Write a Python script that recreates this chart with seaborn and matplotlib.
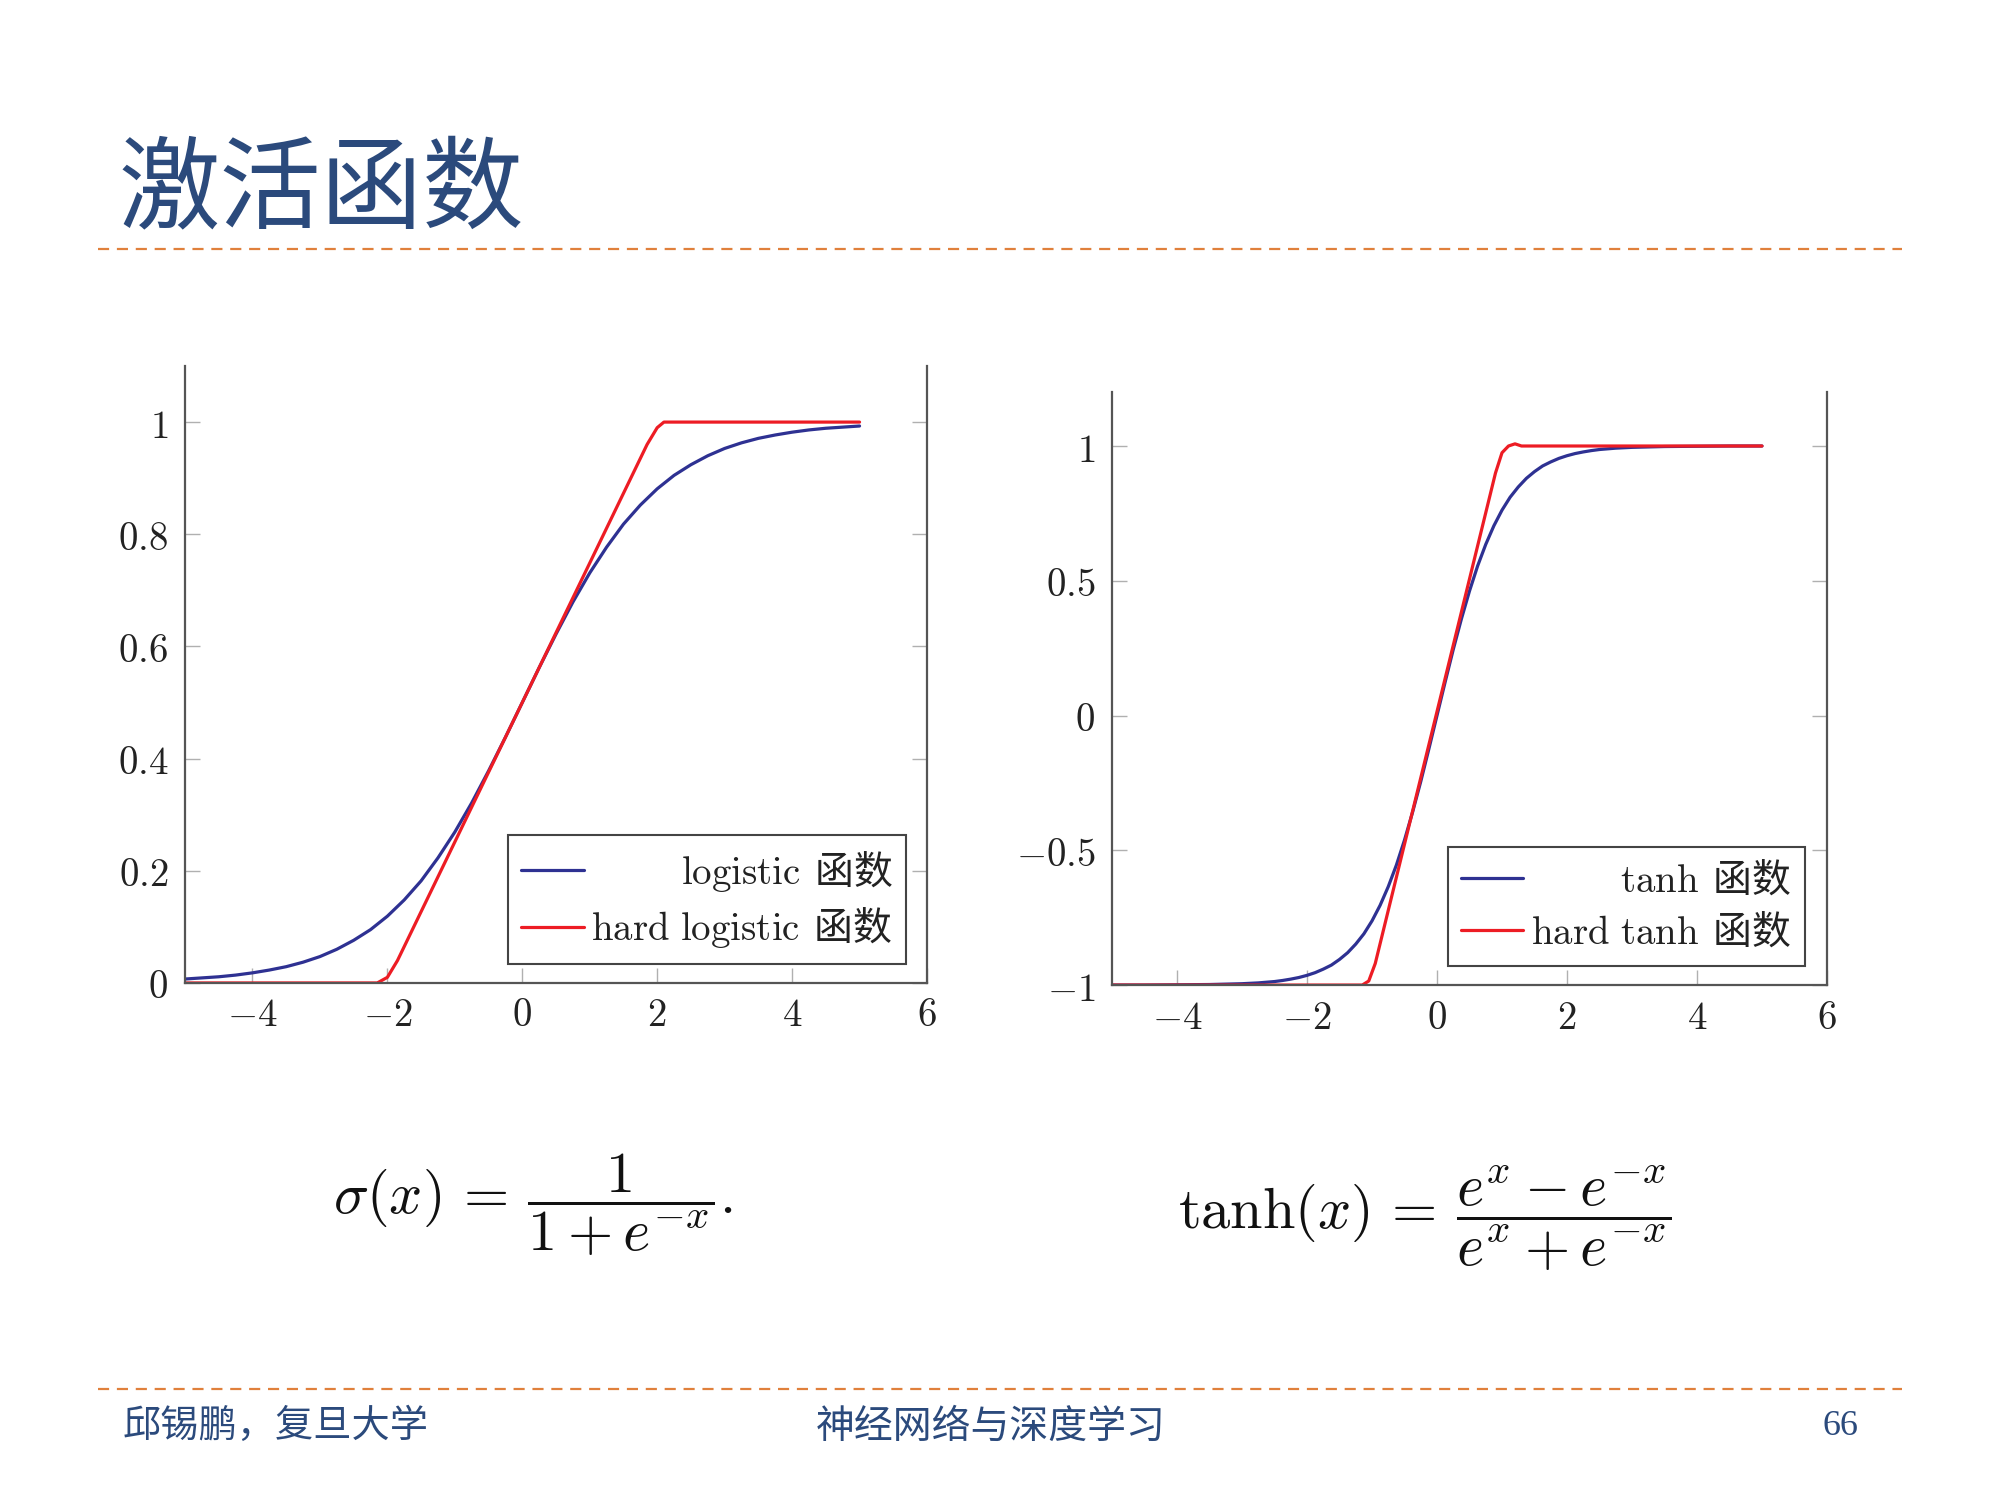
import numpy as np
import matplotlib
matplotlib.use("Agg")
import matplotlib.pyplot as plt
import seaborn as sns
from matplotlib.lines import Line2D

# values
x_logistic = [-5.0, -4.75, -4.5, -4.25, -4.0, -3.75, -3.5, -3.25, -3.0, -2.75, -2.5,
              -2.25, -2.0, -1.75, -1.5, -1.25, -1.0, -0.75, -0.5, -0.25, 0.0,
              0.25, 0.5, 0.75, 1.0, 1.25, 1.5, 1.75, 2.0, 2.25, 2.5,
              2.75, 3.0, 3.25, 3.5, 3.75, 4.0, 4.25, 4.5, 4.75, 5.0]
logistic_y = [0.007, 0.009, 0.011, 0.014, 0.018, 0.023, 0.029, 0.037, 0.047, 0.060, 0.076,
              0.095, 0.119, 0.148, 0.182, 0.223, 0.269, 0.321, 0.378, 0.438, 0.500,
              0.562, 0.622, 0.679, 0.731, 0.777, 0.818, 0.852, 0.881, 0.905, 0.924,
              0.940, 0.953, 0.963, 0.971, 0.977, 0.982, 0.986, 0.989, 0.991, 0.993]

x_tanh = [-5.0, -4.5, -4.0, -3.5, -3.0, -2.75, -2.5, -2.375, -2.25, -2.125, -2.0,
          -1.875, -1.75, -1.625, -1.5, -1.375, -1.25, -1.125, -1.0, -0.875, -0.75,
          -0.625, -0.5, -0.375, -0.25, -0.125, 0.0, 0.125, 0.25, 0.375, 0.5,
          0.625, 0.75, 0.875, 1.0, 1.125, 1.25, 1.375, 1.5, 1.625, 1.75,
          1.875, 2.0, 2.125, 2.25, 2.375, 2.5, 2.75, 3.0, 3.5, 4.0, 4.5, 5.0]
tanh_y = [-1.000, -1.000, -0.999, -0.998, -0.995, -0.992, -0.987, -0.983, -0.978, -0.972, -0.964,
          -0.954, -0.941, -0.926, -0.905, -0.880, -0.848, -0.810, -0.762, -0.704, -0.635,
          -0.555, -0.462, -0.358, -0.245, -0.124, 0.000, 0.124, 0.245, 0.358, 0.462,
          0.555, 0.635, 0.704, 0.762, 0.810, 0.848, 0.880, 0.905, 0.926, 0.941,
          0.954, 0.964, 0.972, 0.978, 0.983, 0.987, 0.992, 0.995, 0.998, 0.999, 1.000, 1.000]

hard_logistic_x = [-5.0, -2.15, -2.0, -1.85, 1.85, 2.0, 2.1, 2.2, 5.0]
hard_logistic_y = [0.0, 0.0, 0.01, 0.04, 0.96, 0.99, 1.0, 1.0, 1.0]
hard_tanh_x = [-5.0, -1.15, -1.05, -0.95, 0.9, 1.0, 1.1, 1.2, 1.3, 5.0]
hard_tanh_y = [-1.0, -1.0, -0.985, -0.92, 0.9, 0.975, 1.0, 1.008, 1.0, 1.0]

left_yticks = [0, 0.2, 0.4, 0.6, 0.8, 1]
right_yticks = [-1, -0.5, 0, 0.5, 1]
xticks = [-4, -2, 0, 2, 4, 6]

title = "激活函数"
footer_left = "邱锡鹏，复旦大学"
footer_mid = "神经网络与深度学习"
page_no = "66"

BLUE = "#2E3192"
RED = "#ED1C24"
TITLE_C = "#2B4A7C"
DASH_C = "#E0803C"

sns.set_theme(style="white")
plt.rcParams['font.family'] = ['Noto Sans CJK SC', 'DejaVu Sans']
plt.rcParams['mathtext.fontset'] = 'cm'

fig = plt.figure(figsize=(20, 15), dpi=100)


def style_axes(ax, yticks, ylim):
    ax.set_xlim(-5, 6)
    ax.set_ylim(*ylim)
    ax.spines['top'].set_visible(False)
    for s in ['left', 'right', 'bottom']:
        ax.spines[s].set_color('#555555')
        ax.spines[s].set_linewidth(1.6)
    ax.set_xticks(xticks, labels=[r'$%g$' % v for v in xticks])
    ax.set_yticks(yticks, labels=[r'$%g$' % v for v in yticks])
    ax.tick_params(axis='both', direction='in', length=11, width=1, color='#b0b0b0',
                   labelsize=28, pad=12, labelcolor='#222222')
    ax.tick_params(axis='x', pad=9)
    ax.tick_params(axis='y', right=True, left=True)
    ax.tick_params(axis='x', bottom=True, top=False)
    ax.set_xlabel('')
    ax.set_ylabel('')


def make_legend(ax, labels, anchor):
    handles = [Line2D([], [], color=BLUE, lw=2.3), Line2D([], [], color=RED, lw=2.3)]
    leg = ax.legend(handles, labels, loc='lower right', bbox_to_anchor=anchor,
                    borderaxespad=0, fancybox=False, framealpha=1, edgecolor='#444444',
                    fontsize=28, handlelength=1.6, handletextpad=0.2, labelspacing=0.3,
                    borderpad=0.35)
    leg.get_frame().set_linewidth(1.5)
    for t in leg.get_texts():
        t.set_color('#222222')
    return leg


ax1 = fig.add_axes([0.0925, 0.3447, 0.371, 0.4113])
sns.lineplot(x=x_logistic, y=logistic_y, color=BLUE, lw=2.3, ax=ax1)
sns.lineplot(x=hard_logistic_x, y=hard_logistic_y, color=RED, lw=2.3, ax=ax1, sort=False)
style_axes(ax1, left_yticks, (0, 1.1))
leg1 = make_legend(ax1, [r'$\mathrm{logistic}\,$ 函数', r'$\mathrm{hard\ logistic}\,$ 函数'],
                   (0.972, 0.031))

ax2 = fig.add_axes([0.556, 0.3433, 0.3575, 0.3953])
sns.lineplot(x=x_tanh, y=tanh_y, color=BLUE, lw=2.3, ax=ax2)
sns.lineplot(x=hard_tanh_x, y=hard_tanh_y, color=RED, lw=2.3, ax=ax2, sort=False)
style_axes(ax2, right_yticks, (-1, 1.2))
leg2 = make_legend(ax2, [r'$\mathrm{tanh}\,$ 函数', r'$\mathrm{hard\ tanh}\,$ 函数'],
                   (0.969, 0.032))

# right-align the legend texts like pgfplots does
fig.canvas.draw()
renderer = fig.canvas.get_renderer()
for leg in [leg1, leg2]:
    widths = [t.get_window_extent(renderer).width for t in leg.get_texts()]
    rows = leg._legend_handle_box.get_children()[0].get_children()
    for row, w in zip(rows, widths):
        row.sep += (max(widths) - w) * 72 / fig.dpi

# title and dashed rules
fig.text(0.059, 0.873, title, fontsize=73, color=TITLE_C, ha='left', va='center')
fig.add_artist(Line2D([0.049, 0.951], [0.8337, 0.8337], transform=fig.transFigure,
                      color=DASH_C, lw=1.6, dashes=(5, 3.5)))
fig.add_artist(Line2D([0.049, 0.951], [0.0743, 0.0743], transform=fig.transFigure,
                      color=DASH_C, lw=1.6, dashes=(5, 3.5)))

# formulas
fig.text(0.2665, 0.197, r'$\sigma(x)\,=\,\dfrac{1}{1+e^{-x}}.$', fontsize=42,
         ha='center', va='center', color='#111111')
fig.text(0.7125, 0.188, r'$\tanh(x)\,=\,\dfrac{e^{x}-e^{-x}}{e^{x}+e^{-x}}$', fontsize=42,
         ha='center', va='center', color='#111111')

# footer
fig.text(0.0615, 0.049, footer_left, fontsize=27.5, color=TITLE_C, ha='left', va='center')
fig.text(0.4955, 0.049, footer_mid, fontsize=28, color=TITLE_C, ha='center', va='center')
fig.text(0.92, 0.049, page_no, fontsize=26, color=TITLE_C, ha='center', va='center',
         family='Liberation Serif')

fig.savefig("out.png", dpi=100)
